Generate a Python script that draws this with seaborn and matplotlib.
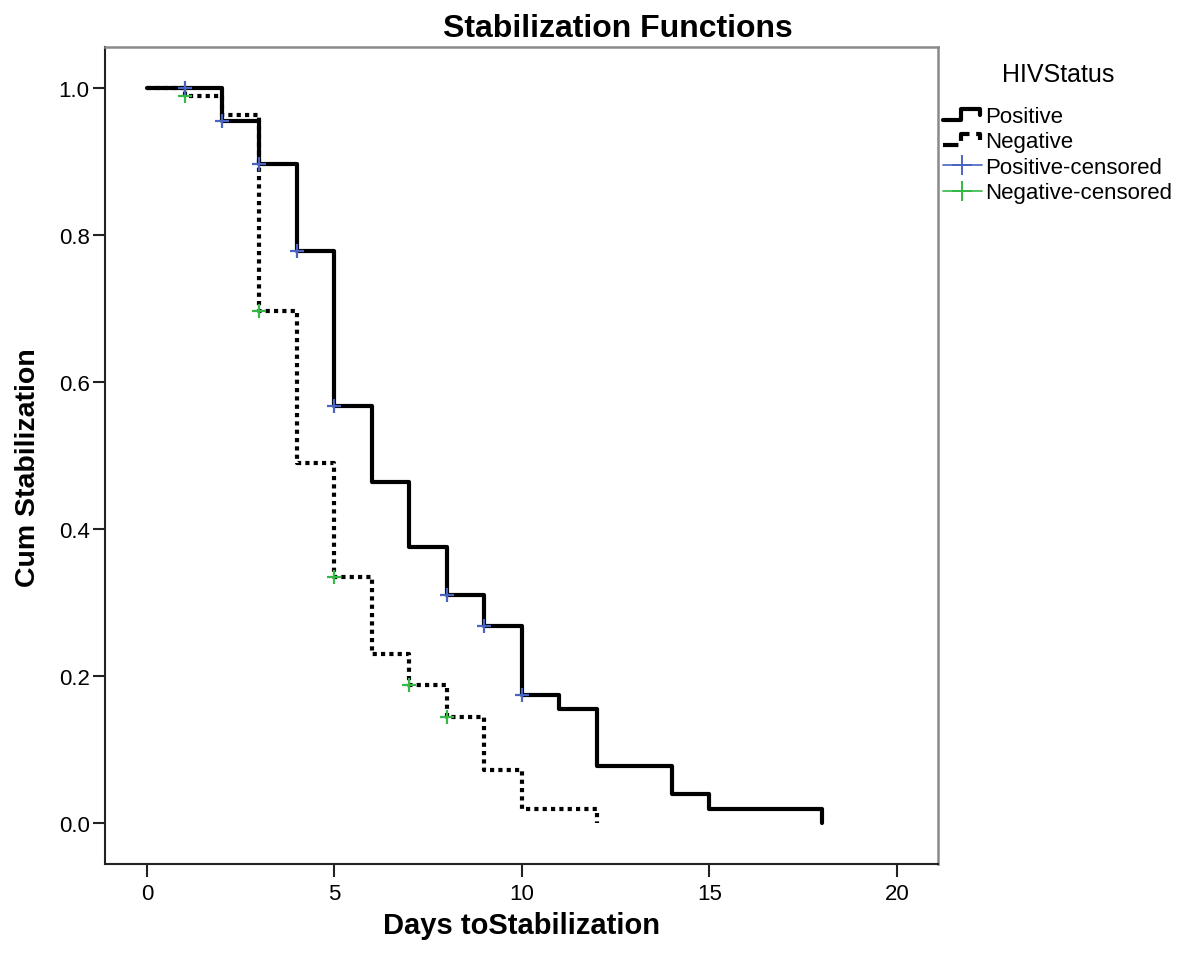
import numpy as np
import pandas as pd
import seaborn as sns
import matplotlib
matplotlib.use("Agg")
import matplotlib.pyplot as plt
from matplotlib.lines import Line2D
from matplotlib.legend_handler import HandlerBase

# Kaplan-Meier style step curves
pos_days = [0, 2, 3, 4, 5, 6, 7, 8, 9, 10, 11, 12, 14, 15, 18]
pos_surv = [1.0, 0.955, 0.897, 0.778, 0.567, 0.464, 0.375, 0.310, 0.268, 0.174, 0.155, 0.078, 0.039, 0.019, 0.0]
neg_days = [0, 1, 2, 3, 4, 5, 6, 7, 8, 9, 10, 12]
neg_surv = [1.0, 0.989, 0.963, 0.697, 0.490, 0.335, 0.230, 0.188, 0.144, 0.072, 0.019, 0.0]

# censored marks
pos_cens_days = [1, 2, 3, 4, 5, 8, 9, 10]
pos_cens_surv = [1.0, 0.955, 0.897, 0.778, 0.567, 0.310, 0.268, 0.174]
neg_cens_days = [1, 3, 5, 7, 8]
neg_cens_surv = [0.989, 0.697, 0.335, 0.188, 0.144]

x_ticks = [0, 5, 10, 15, 20]
y_ticks = [0.0, 0.2, 0.4, 0.6, 0.8, 1.0]

blue = "#4a64c2"
green = "#35b846"

sns.set_theme(style="white")
plt.rcParams["font.family"] = ["Liberation Sans", "DejaVu Sans"]
plt.rcParams["text.color"] = "black"

pos_df = pd.DataFrame({"days": pos_days, "surv": pos_surv})
neg_df = pd.DataFrame({"days": neg_days, "surv": neg_surv})
pos_c = pd.DataFrame({"days": pos_cens_days, "surv": pos_cens_surv})
neg_c = pd.DataFrame({"days": neg_cens_days, "surv": neg_cens_surv})

fig = plt.figure(figsize=(11.8, 9.54), dpi=100)
ax = fig.add_axes([0.089, 0.0933, 0.706, 0.8564])

sns.lineplot(data=neg_df, x="days", y="surv", ax=ax, color="black", lw=3,
             linestyle=(0, (1, 1)), drawstyle="steps-post", estimator=None,
             sort=False, legend=False)
sns.lineplot(data=pos_df, x="days", y="surv", ax=ax, color="black", lw=3,
             drawstyle="steps-post", estimator=None, sort=False, legend=False)
sns.scatterplot(data=neg_c, x="days", y="surv", ax=ax, marker="+", s=90,
                color=green, linewidth=1.6, zorder=5, legend=False)
sns.scatterplot(data=pos_c, x="days", y="surv", ax=ax, marker="+", s=110,
                color=blue, linewidth=1.6, zorder=5, legend=False)

ax.set_xlim(-1.12, 21.1)
ax.set_ylim(-0.056, 1.056)
ax.set_xticks(x_ticks)
ax.set_yticks(y_ticks)
ax.set_yticklabels([f"{v:.1f}" for v in y_ticks])
ax.tick_params(axis="both", direction="out", length=9, width=1.5, labelsize=16,
               colors="#222222", labelcolor="black", bottom=True, left=True)
ax.tick_params(axis="y", pad=2)
ax.tick_params(axis="x", pad=5)

for side in ["left", "bottom"]:
    ax.spines[side].set_color("#222222")
    ax.spines[side].set_linewidth(1.5)
for side in ["top", "right"]:
    ax.spines[side].set_color("#8a8a8a")
    ax.spines[side].set_linewidth(1.8)

ax.set_xlabel("")
ax.set_ylabel("")
fig.text(0.442, 0.015, "Days toStabilization", ha="center", va="bottom",
         fontsize=21, fontweight="bold")
fig.text(0.024, 0.51, "Cum Stabilization", ha="center", va="center",
         rotation=90, fontsize=20.5, fontweight="bold")
fig.text(0.524, 0.97, "Stabilization Functions", ha="center", va="center",
         fontsize=23, fontweight="bold")


class StepHandler(HandlerBase):
    # little stair icon like the SPSS legend
    def create_artists(self, legend, orig_handle, xdescent, ydescent,
                       width, height, fontsize, trans):
        x0 = -xdescent
        y0 = -ydescent
        xs = np.array([0.0, 0.45, 0.45, 0.95, 0.95]) * width + x0
        ys = np.array([0.15, 0.15, 0.85, 0.85, 0.45]) * height + y0
        line = Line2D(xs, ys, color="black", lw=orig_handle.get_linewidth(),
                      linestyle=orig_handle.get_linestyle(), transform=trans)
        return [line]


h_pos = Line2D([], [], color="black", lw=3)
h_neg = Line2D([], [], color="black", lw=3, linestyle=(0, (1, 1)))
h_pc = Line2D([], [], color=blue, lw=1.2, marker="+", markersize=14, mew=1.4)
h_nc = Line2D([], [], color=green, lw=1.2, marker="+", markersize=14, mew=1.4)

fig.text(1058 / 1180, 1 - 75 / 954, "HIVStatus", ha="center", va="center",
         fontsize=18)
leg = fig.legend([h_pos, h_neg, h_pc, h_nc],
                 ["Positive", "Negative", "Positive-censored", "Negative-censored"],
                 handler_map={h_pos: StepHandler(), h_neg: StepHandler()},
                 loc="upper left", bbox_to_anchor=(943 / 1180, 1 - 107 / 954),
                 frameon=False, fontsize=16,
                 handlelength=1.75, handletextpad=0.15, labelspacing=0.2,
                 borderpad=0.0, borderaxespad=0.0)

fig.savefig("out.png", dpi=100, facecolor="white")
